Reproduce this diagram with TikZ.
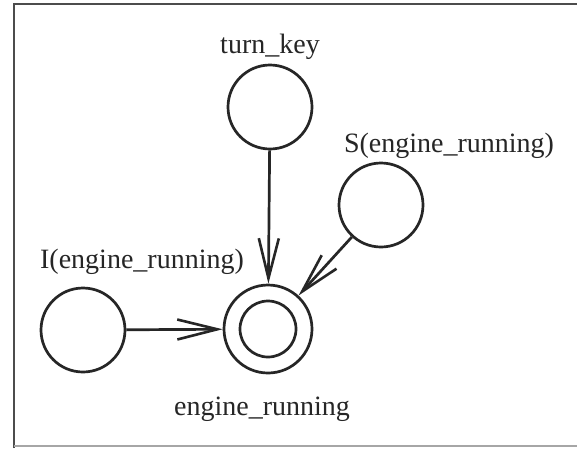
\documentclass[tikz,border=0pt]{standalone}
\usepackage{fontspec}
\setmainfont{Liberation Serif}
\usetikzlibrary{arrows.meta}
\begin{document}
\begin{tikzpicture}[x=1pt,y=-1pt,
  state/.style={circle,draw=black!85,line width=2.7pt,minimum size=84pt,inner sep=0pt},
  lbl/.style={anchor=base,inner sep=0pt,font=\fontsize{28}{32}\selectfont,text=black!85},
  conn/.style={draw=black!85,line width=2.7pt,-{Straight Barb[length=40pt,width=20pt,line width=2.6pt]}}]
\useasboundingbox (0,0) rectangle (577,448);
\fill[white] (0,0) rectangle (577,448);
% frame
\draw[black!70,line width=2.5pt] (14,448) -- (14,4) -- (577,4);
\draw[black!35,line width=2pt] (14,446) -- (577,446);
% states
\node[state] (tk) at (270,107) {};
\node[state] (s) at (381,205) {};
\node[state] (i) at (83,330) {};
\node[state,minimum size=88pt] (er) at (268,329) {};
\node[circle,draw=black!85,line width=2.7pt,minimum size=56pt,inner sep=0pt] (eri) at (268,329) {};
% labels
\node[lbl] (ltk) at (270,53) {turn\_key};
\node[lbl] (ls) at (449,152) {S(engine\_running)};
\node[lbl] (li) at (142,268) {I(engine\_running)};
\node[lbl] (ler) at (262,415) {engine\_running};
% connectors
\draw[conn] (tk) -- (er);
\draw[conn] (s) -- (er);
\draw[conn] (i) -- (er);
\end{tikzpicture}
\end{document}
